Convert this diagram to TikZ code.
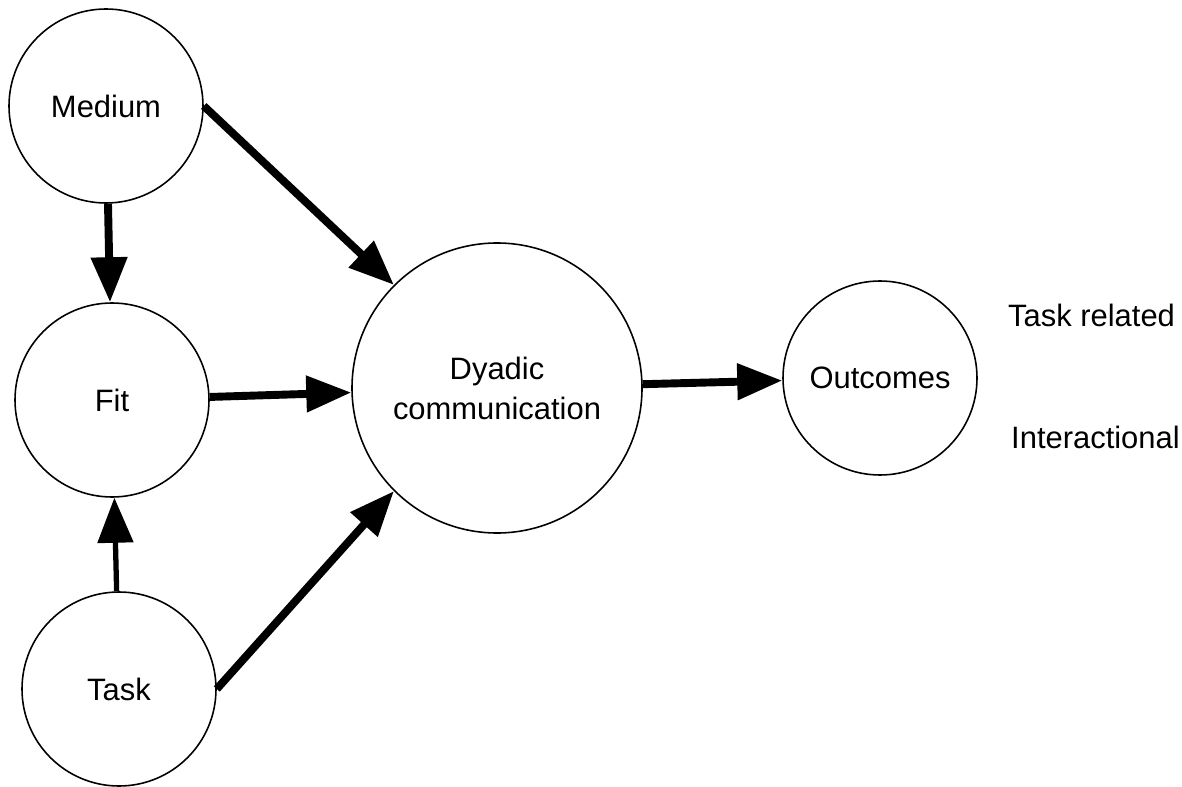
\documentclass[tikz,border=0pt]{standalone}
\usepackage{fontspec}
\setmainfont{Liberation Sans}
\usetikzlibrary{arrows.meta}
\usetikzlibrary{positioning}
\tikzset{
  >={Triangle[length=0.9cm,width=0.7cm]},
  concept/.style={circle,draw,line width=0.9pt,minimum size=3.88cm,inner sep=0pt,align=center,
    font=\fontsize{17.6}{22.8}\selectfont},
  concept big/.style={concept,minimum size=5.8cm},
  link/.style={->,line width=4.5pt},
  link thin/.style={link,line width=3pt},
  outcome text/.style={anchor=west,font=\fontsize{17.6}{22.8}\selectfont}
}
\begin{document}
\begin{tikzpicture}[x=1cm,y=1cm]
  \useasboundingbox (0,0) rectangle (23.64,15.72);

  % --- LEFT COLUMN: INPUTS ---
  \node[concept] (medium) at (2.12, 13.6) {Medium};
  \node[concept] (fit) at (2.24, 7.72) {Fit};
  \node[concept] (task) at (2.38, 1.94) {Task};

  % --- CENTRE ---
  \node[concept big] (dyadic) at (9.94, 7.96) {Dyadic\\communication};

  % --- RIGHT: OUTCOMES ---
  \node[concept] (outcomes) at (17.6, 8.16) {Outcomes};
  \node[outcome text] (task-related) at (20.04, 9.42) {Task related};
  \node[outcome text] (interactional) at (20.1, 6.98) {Interactional};

  % --- CONNECTIONS ---
  \draw[link] (medium) -- (fit);
  \draw[link thin] (task) -- (fit);
  \draw[link] (medium.east) -- (dyadic.135);
  \draw[link] (fit) -- (dyadic);
  \draw[link] (task.east) -- (dyadic.225);
  \draw[link] (dyadic) -- (outcomes);

\end{tikzpicture}
\end{document}
